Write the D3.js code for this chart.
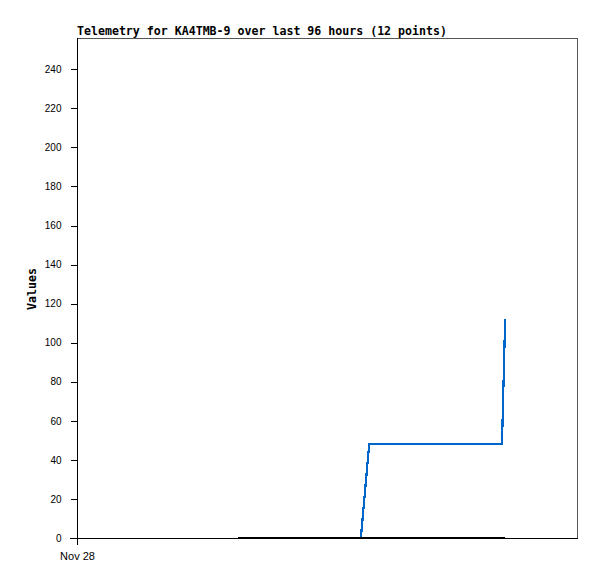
<!DOCTYPE html>
<html><head><meta charset="utf-8">
<script src="https://cdn.jsdelivr.net/npm/d3@7"></script>
<style>body{margin:0;background:#fff}svg{display:block}</style>
</head><body>
<script>
const title = "Telemetry for KA4TMB-9 over last 96 hours (12 points)";
const yLabel = "Values";
const startTime = new Date(2023, 10, 28, 0, 0);
const hoursSpan = 96;
// hours since start for each of the 12 points
const hours = [30.9, 38, 44, 50, 54.5, 56.1, 62, 68, 74, 81.6, 81.9, 82.2];
const seriesBlue = [0, 0, 0, 0, 0, 48, 48, 48, 48, 48, 80, 112];
const seriesBlack = [0, 0, 0, 0, 0, 0, 0, 0, 0, 0, 0, 0];
const yTicks = [0, 20, 40, 60, 80, 100, 120, 140, 160, 180, 200, 220, 240];
const xTickLabels = ["Nov 28"];

const W = 597, H = 579;
const L = 77, R = 577, T = 38, B = 538;
const svg = d3.select("body").append("svg").attr("width", W).attr("height", H);

const times = hours.map(h => new Date(startTime.getTime() + h * 3600e3));
const x = d3.scaleTime().domain([startTime, new Date(startTime.getTime() + hoursSpan * 3600e3)]).range([L, R]);
const y = d3.scaleLinear().domain([0, 256]).range([B, T]);

// frame (top/right grey)
svg.append("path").attr("d", `M${L},${T+0.5}H${R+0.5}V${B}`)
  .attr("fill", "none").attr("stroke", "#555").attr("shape-rendering", "crispEdges");

// y axis
const yAxis = d3.axisLeft(y).tickValues(yTicks).tickSize(7).tickPadding(9).tickFormat(d3.format("d"));
const gy = svg.append("g").attr("transform", `translate(${L+0.5},0)`).call(yAxis);
gy.select(".domain").remove();
gy.selectAll("line").attr("stroke", "#000").attr("shape-rendering", "crispEdges");
gy.selectAll("text").attr("font-family", "Liberation Sans, Arial, sans-serif").attr("font-size", 10).attr("fill", "#000");
svg.append("line").attr("x1", L+0.5).attr("x2", L+0.5).attr("y1", T).attr("y2", B+7)
  .attr("stroke", "#000").attr("shape-rendering", "crispEdges");

// x axis
const xAxis = d3.axisBottom(x).tickValues([startTime]).tickSize(7).tickPadding(7).tickFormat((d, i) => xTickLabels[i]);
const gx = svg.append("g").attr("transform", `translate(0,${B+0.5})`).call(xAxis);
gx.select(".domain").remove();
gx.selectAll("line").remove();
gx.selectAll("text").attr("font-family", "Liberation Sans, Arial, sans-serif").attr("font-size", 11).attr("fill", "#000");
svg.append("line").attr("x1", L-7).attr("x2", R+1).attr("y1", B+0.5).attr("y2", B+0.5)
  .attr("stroke", "#000").attr("shape-rendering", "crispEdges");

// series lines
const line = d3.line().x((d, i) => x(times[i])).y(d => y(d));
svg.append("path").datum(seriesBlue).attr("d", line)
  .attr("fill", "none").attr("stroke", "#0066cc").attr("stroke-width", 2.2).attr("shape-rendering", "crispEdges");
svg.append("path").datum(seriesBlack).attr("d", line).attr("transform", "translate(0,-0.5)")
  .attr("fill", "none").attr("stroke", "#000").attr("stroke-width", 2).attr("shape-rendering", "crispEdges");

// title
svg.append("text").attr("x", L).attr("y", 35).text(title)
  .attr("font-family", "DejaVu Sans Mono, monospace").attr("font-weight", "bold").attr("font-size", 11.6).attr("fill", "#000");

// y label
svg.append("text").attr("transform", `translate(36,289) rotate(-90)`).attr("text-anchor", "middle").text(yLabel)
  .attr("font-family", "DejaVu Sans Mono, monospace").attr("font-weight", "bold").attr("font-size", 11.6).attr("fill", "#000");
</script>
</body></html>
